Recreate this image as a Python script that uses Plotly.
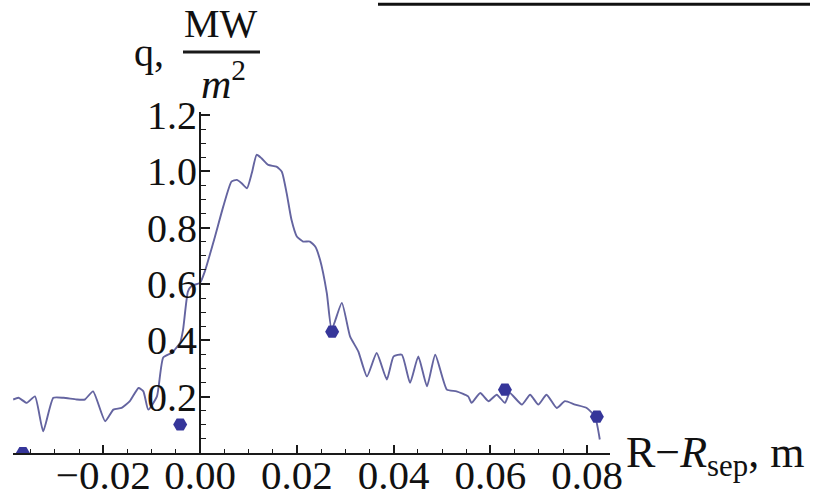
import plotly.graph_objects as go

# Heat flux profile q (MW/m^2) vs R - R_sep (m)
q_x = [-0.0386, -0.0375, -0.0358, -0.0341, -0.0324, -0.0303, -0.0282, -0.0255, -0.0238,
       -0.0221, -0.0196, -0.0179, -0.0162, -0.0145, -0.0127, -0.0117, -0.0107, -0.0089,
       -0.0076, -0.0058, -0.0041, -0.0035, -0.0025, -0.0017, 0.0000, 0.0010, 0.0031,
       0.0048, 0.0065, 0.0076, 0.0086, 0.0097, 0.0107, 0.0117, 0.0127, 0.0141, 0.0158,
       0.0169, 0.0179, 0.0189, 0.0200, 0.0213, 0.0227, 0.0238, 0.0248, 0.0262, 0.0272,
       0.0293, 0.0310, 0.0327, 0.0345, 0.0365, 0.0386, 0.0400, 0.0417, 0.0434, 0.0451,
       0.0469, 0.0486, 0.0510, 0.0530, 0.0554, 0.0561, 0.0579, 0.0596, 0.0613, 0.0630,
       0.0640, 0.0665, 0.0682, 0.0699, 0.0716, 0.0737, 0.0754, 0.0775, 0.0799, 0.0816,
       0.0826]
q_y = [0.190, 0.196, 0.178, 0.201, 0.077, 0.196, 0.196, 0.190, 0.190,
       0.219, 0.113, 0.154, 0.160, 0.184, 0.231, 0.219, 0.154, 0.201,
       0.339, 0.356, 0.392, 0.438, 0.573, 0.594, 0.604, 0.645, 0.769,
       0.875, 0.964, 0.970, 0.958, 0.940, 0.994, 1.059, 1.047, 1.023, 1.017,
       0.999, 0.923, 0.828, 0.769, 0.751, 0.751, 0.733, 0.686, 0.568, 0.438,
       0.533, 0.414, 0.361, 0.272, 0.355, 0.261, 0.343, 0.349, 0.249, 0.343,
       0.237, 0.349, 0.225, 0.219, 0.201, 0.178, 0.213, 0.184, 0.207, 0.178,
       0.213, 0.172, 0.207, 0.172, 0.207, 0.160, 0.184, 0.172, 0.160, 0.130,
       0.048]

# Measured points
pt_x = [-0.0366, -0.0041, 0.0273, 0.0630, 0.0820]
pt_y = [0.000, 0.101, 0.431, 0.225, 0.129]

x_ticks = [-0.02, 0.00, 0.02, 0.04, 0.06, 0.08]
x_ticktext = ["\u22120.02", "0.00", "0.02", "0.04", "0.06", "0.08"]
y_ticks = [0.2, 0.4, 0.6, 0.8, 1.0, 1.2]
y_ticktext = ["0.2", "0.4", "0.6", "0.8", "1.0", "1.2"]

x_range = [-0.03864, 0.08471]
y_range = [0.0, 1.211]

W, H = 814, 496
L, R, T, B = 13, 204, 112, 42.5
PW, PH = W - L - R, H - T - B


def px(xp):
    return (xp - L) / PW


def py(yp):
    return (H - B - yp) / PH


FONT = "Liberation Serif, Times New Roman, serif"
LINE_COLOR = "#6464a0"
MARK_COLOR = "#36369a"
AX = "#1a1a1a"
TXT = "#111111"

fig = go.Figure()
fig.add_trace(go.Scatter(x=q_x, y=q_y, mode="lines",
                         line=dict(color=LINE_COLOR, width=1.9, shape="spline", smoothing=0.5),
                         showlegend=False))
fig.add_trace(go.Scatter(x=pt_x, y=pt_y, mode="markers",
                         marker=dict(color=MARK_COLOR, symbol="hexagon2", size=14,
                                     line=dict(width=0)),
                         showlegend=False))

yaxis_pos = (0 - x_range[0]) / (x_range[1] - x_range[0])

fig.update_layout(
    width=W, height=H,
    margin=dict(l=L, r=R, t=T, b=B, pad=0, autoexpand=False),
    paper_bgcolor="white", plot_bgcolor="white",
    font=dict(family=FONT, color=TXT),
    xaxis=dict(range=x_range, showgrid=False, zeroline=False, automargin=False,
               showline=True, linecolor=AX, linewidth=2,
               tickmode="array", tickvals=x_ticks, ticktext=x_ticktext,
               ticks="inside", ticklen=8, tickwidth=1.5, tickcolor=AX,
               ticklabelstandoff=-15,
               tickfont=dict(family=FONT, size=41, color=TXT),
               minor=dict(tickmode="linear", tick0=0, dtick=0.005, ticks="inside",
                          ticklen=4, tickwidth=1.2, tickcolor=AX)),
    yaxis=dict(range=y_range, showgrid=False, zeroline=False, automargin=False,
               anchor="free", position=yaxis_pos,
               showline=True, linecolor=AX, linewidth=2,
               tickmode="array", tickvals=y_ticks, ticktext=y_ticktext,
               ticks="inside", ticklen=9, tickwidth=1.5, tickcolor=AX,
               ticklabelstandoff=-6,
               tickfont=dict(family=FONT, size=40, color=TXT),
               minor=dict(tickmode="linear", tick0=0, dtick=0.05, ticks="inside",
                          ticklen=5, tickwidth=1.2, tickcolor=AX)),
)

ann = dict(xref="paper", yref="paper", showarrow=False)
fig.add_annotation(text="q,", x=px(132), y=py(52), xanchor="left", yanchor="middle",
                   font=dict(family=FONT, size=40, color=TXT), **ann)
fig.add_annotation(text="MW", x=px(221), y=py(23), xanchor="center", yanchor="middle",
                   font=dict(family=FONT, size=40, color=TXT), **ann)
fig.add_annotation(text="<i>m</i><sup>2</sup>", x=px(223), y=py(80), xanchor="center", yanchor="middle",
                   font=dict(family=FONT, size=42, color=TXT), **ann)
fig.add_annotation(text="R\u2212<i>R</i><sub>sep</sub>, m", x=px(624), y=py(456),
                   xanchor="left", yanchor="middle",
                   font=dict(family=FONT, size=44, color=TXT), **ann)

# fraction bar of the unit and the stray rule at the top of the image
fig.add_shape(type="line", xref="paper", yref="paper", x0=px(183), x1=px(260),
              y0=py(52), y1=py(52), line=dict(color=AX, width=3))
fig.add_shape(type="line", xref="paper", yref="paper", x0=px(378), x1=px(810),
              y0=py(4), y1=py(4), line=dict(color=TXT, width=3))

fig.write_html("out.html")
